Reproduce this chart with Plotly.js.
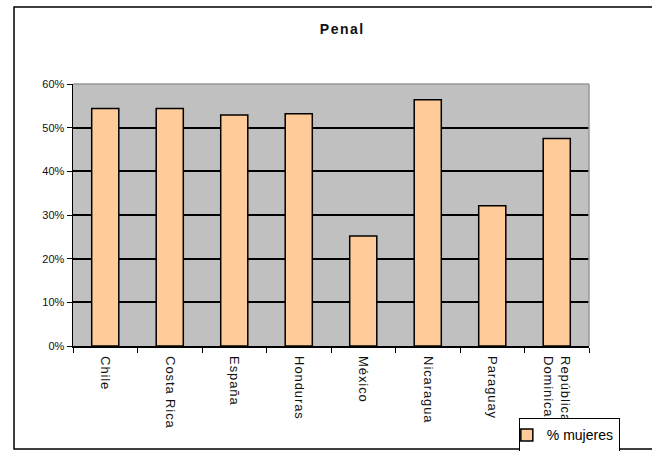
<!DOCTYPE html>
<html>
<head>
<meta charset="utf-8">
<script src="https://cdn.plot.ly/plotly-3.0.1.min.js"></script>
<style>
html,body{margin:0;padding:0;background:#fff;}
#chart{width:652px;height:451px;}
#chart .xtick text{letter-spacing:0.9px;}
#chart .gtitle{letter-spacing:1.5px;}
</style>
</head>
<body>
<div id="chart"></div>
<script>
var categories = ["Chile", "Costa Rica", "España", "Honduras", "México", "Nicaragua", "Paraguay", "República<br>Dominicana"];
var mujeres = [54.4, 54.4, 52.9, 53.2, 25.2, 56.4, 32.1, 47.5];
var yTicks = [0, 10, 20, 30, 40, 50, 60];
var seriesName = "% mujeres";
var chartTitle = "Penal";

var trace = {
  type: "bar",
  x: categories,
  y: mujeres,
  name: seriesName,
  showlegend: true,
  marker: {color: "#FFCC99", line: {color: "#000000", width: 1.5}},
  hoverinfo: "x+y"
};

var layout = {
  width: 652, height: 451,
  margin: {l: 73, r: 63, t: 84, b: 105, pad: 0, autoexpand: false},
  paper_bgcolor: "#ffffff",
  plot_bgcolor: "#c0c0c0",
  font: {family: "Liberation Sans, Arial, sans-serif", size: 11, color: "#000"},
  title: {text: "<b>" + chartTitle + "</b>", x: 0.525, xref: "container", xanchor: "center",
          y: 1 - 29/451, yref: "container", yanchor: "middle",
          font: {family: "Liberation Sans, Arial, sans-serif", size: 14, color: "#111"}},
  bargap: 0.58,
  xaxis: {
    type: "category",
    automargin: false,
    tickangle: 90,
    tickson: "boundaries",
    ticks: "outside", ticklen: 5, tickcolor: "#000", tickwidth: 1,
    ticklabelstandoff: 6,
    showline: true, linecolor: "#000", linewidth: 1.5,
    showgrid: false, zeroline: false,
    tickfont: {size: 13, color: "#111"},
    fixedrange: true
  },
  yaxis: {
    automargin: false,
    range: [0, 60],
    tickvals: yTicks,
    ticktext: yTicks.map(function(v){return v + "%";}),
    ticks: "outside", ticklen: 5, tickcolor: "#000", tickwidth: 1,
    showline: true, linecolor: "#000", linewidth: 1.5,
    showgrid: true, gridcolor: "#000", gridwidth: 2,
    zeroline: false,
    tickfont: {size: 11, color: "#111"},
    fixedrange: true
  },
  legend: {
    x: 0.864, xanchor: "left", y: -0.276, yanchor: "top",
    bgcolor: "#ffffff", bordercolor: "#000", borderwidth: 1,
    font: {size: 14, color: "#000"},
    indentation: -13
  },
  shapes: [
    {type: "line", xref: "paper", yref: "paper", x0: 0, x1: 1, y0: 1, y1: 1, line: {color: "#999999", width: 1.5}},
    {type: "line", xref: "paper", yref: "paper", x0: 1, x1: 1, y0: 0, y1: 1, line: {color: "#999999", width: 1.5}},
    {type: "rect", xref: "paper", yref: "paper", x0: -0.1143, x1: 1.14, y0: -0.393, y1: 1.294,
     line: {color: "#000", width: 1.5}, fillcolor: "rgba(0,0,0,0)"}
  ]
};

Plotly.newPlot("chart", [trace], layout, {displayModeBar: false, staticPlot: true});
</script>
</body>
</html>
